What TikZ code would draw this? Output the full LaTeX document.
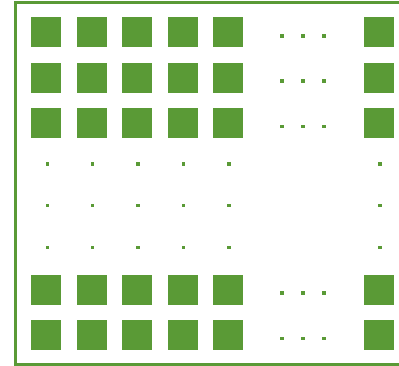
\documentclass[tikz,border=0pt]{standalone}
\usepackage{tikz}
\definecolor{cellgreen}{HTML}{5A9A36}
\tikzset{
  cell/.style    = {draw=none, fill=cellgreen, minimum size=30pt, inner sep=0pt},
  dotc/.style    = {draw=none, fill=cellgreen, minimum size=3.5pt, inner sep=0pt},
  edgebox/.style = {draw=cellgreen, line width=3pt},
}
\begin{document}
\begin{tikzpicture}[x=1pt, y=-1pt]
\useasboundingbox (0,0) rectangle (399,366);
\clip (0,0) rectangle (399,366);
\draw[edgebox] (15.5,2.5) rectangle (430,364.5);

% full rows of cells, with the horizontal dots
\foreach \r/\y in {1/32.3, 2/77.7, 3/123, 4/289.5, 5/335}{
  \foreach \c/\x in {1/46.3, 2/91.7, 3/137.1, 4/182.5, 5/227.9, 6/379}{
    \node[cell] (s\r\c) at (\x,\y) {};
  }
  \foreach \k/\x in {1/282, 2/303, 3/324}{\node[dotc] (h\r\k) at (\x,\y+3.5) {};}
}

% vertical dots between the row groups
\foreach \k/\y in {1/164, 2/205.7, 3/247.7}{
  \foreach \c/\x in {1/47.3, 2/92.7, 3/138.1, 4/183.5, 5/228.9, 6/380}{
    \node[dotc] (v\k\c) at (\x,\y) {};
  }
}
\end{tikzpicture}
\end{document}
